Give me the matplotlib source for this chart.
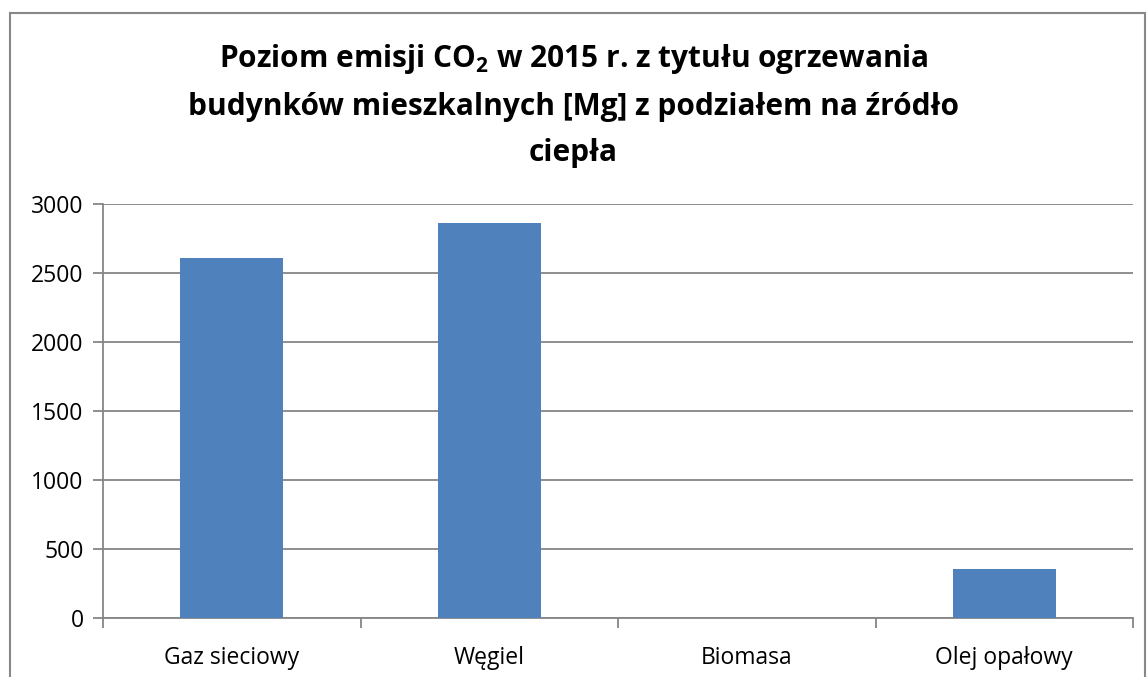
import matplotlib
matplotlib.use("Agg")
import matplotlib.pyplot as plt
from matplotlib.patches import Rectangle
import numpy as np

categories = ["Gaz sieciowy", "Węgiel", "Biomasa", "Olej opałowy"]
emissions = [2610, 2860, 0, 353]
y_ticks = [0, 500, 1000, 1500, 2000, 2500, 3000]

TITLE = ("Poziom emisji CO$_\\mathbf{2}$ w 2015 r. z tytułu ogrzewania\n"
         "budynków mieszkalnych [Mg] z podziałem na źródło\nciepła")

BAR_COLOR = "#4f81bd"
GRID_COLOR = "#868686"

plt.rcParams["font.family"] = ["Open Sans", "DejaVu Sans"]
plt.rcParams["mathtext.fontset"] = "custom"
plt.rcParams["mathtext.bf"] = "Open Sans:bold"
plt.rcParams["mathtext.rm"] = "Open Sans"

W, H = 1147, 677
fig = plt.figure(figsize=(W / 100, H / 100), dpi=100)
ax = fig.add_axes([103 / W, 1 - 618 / H, (1133 - 103) / W, (618 - 204) / H])

x = np.arange(len(categories))
ax.bar(x, emissions, width=0.4, color=BAR_COLOR, zorder=3)

ax.set_xlim(-0.5, len(categories) - 0.5)
ax.set_ylim(0, 3000)
ax.set_yticks(y_ticks)
ax.set_yticklabels([str(v) for v in y_ticks], fontsize=16.5)
ax.yaxis.grid(True, color=GRID_COLOR, linewidth=1.3, zorder=0)

ax.set_xticks(np.arange(len(categories) + 1) - 0.5)
ax.set_xticklabels([])
ax.set_xticks(x, minor=True)
ax.set_xticklabels(categories, minor=True, fontsize=16.5)
ax.tick_params(axis="x", which="minor", length=0, pad=20)
ax.tick_params(axis="x", which="major", length=7, width=1.3, color=GRID_COLOR)
ax.tick_params(axis="y", length=7, width=1.3, color=GRID_COLOR, pad=7)

for side in ["top", "right"]:
    ax.spines[side].set_visible(False)
for side in ["left", "bottom"]:
    ax.spines[side].set_color(GRID_COLOR)
    ax.spines[side].set_linewidth(1.3)

fig.text(0.5, 1 - 105 / H, TITLE, ha="center", va="center", fontsize=21.5,
         fontweight="bold", linespacing=1.68)

fig.patches.append(Rectangle((10 / W, -0.05), (1145 - 10) / W, 1.05 - 13 / H,
                             transform=fig.transFigure, fill=False,
                             edgecolor="#888888", linewidth=1.5))

fig.savefig("out.png", dpi=100)
